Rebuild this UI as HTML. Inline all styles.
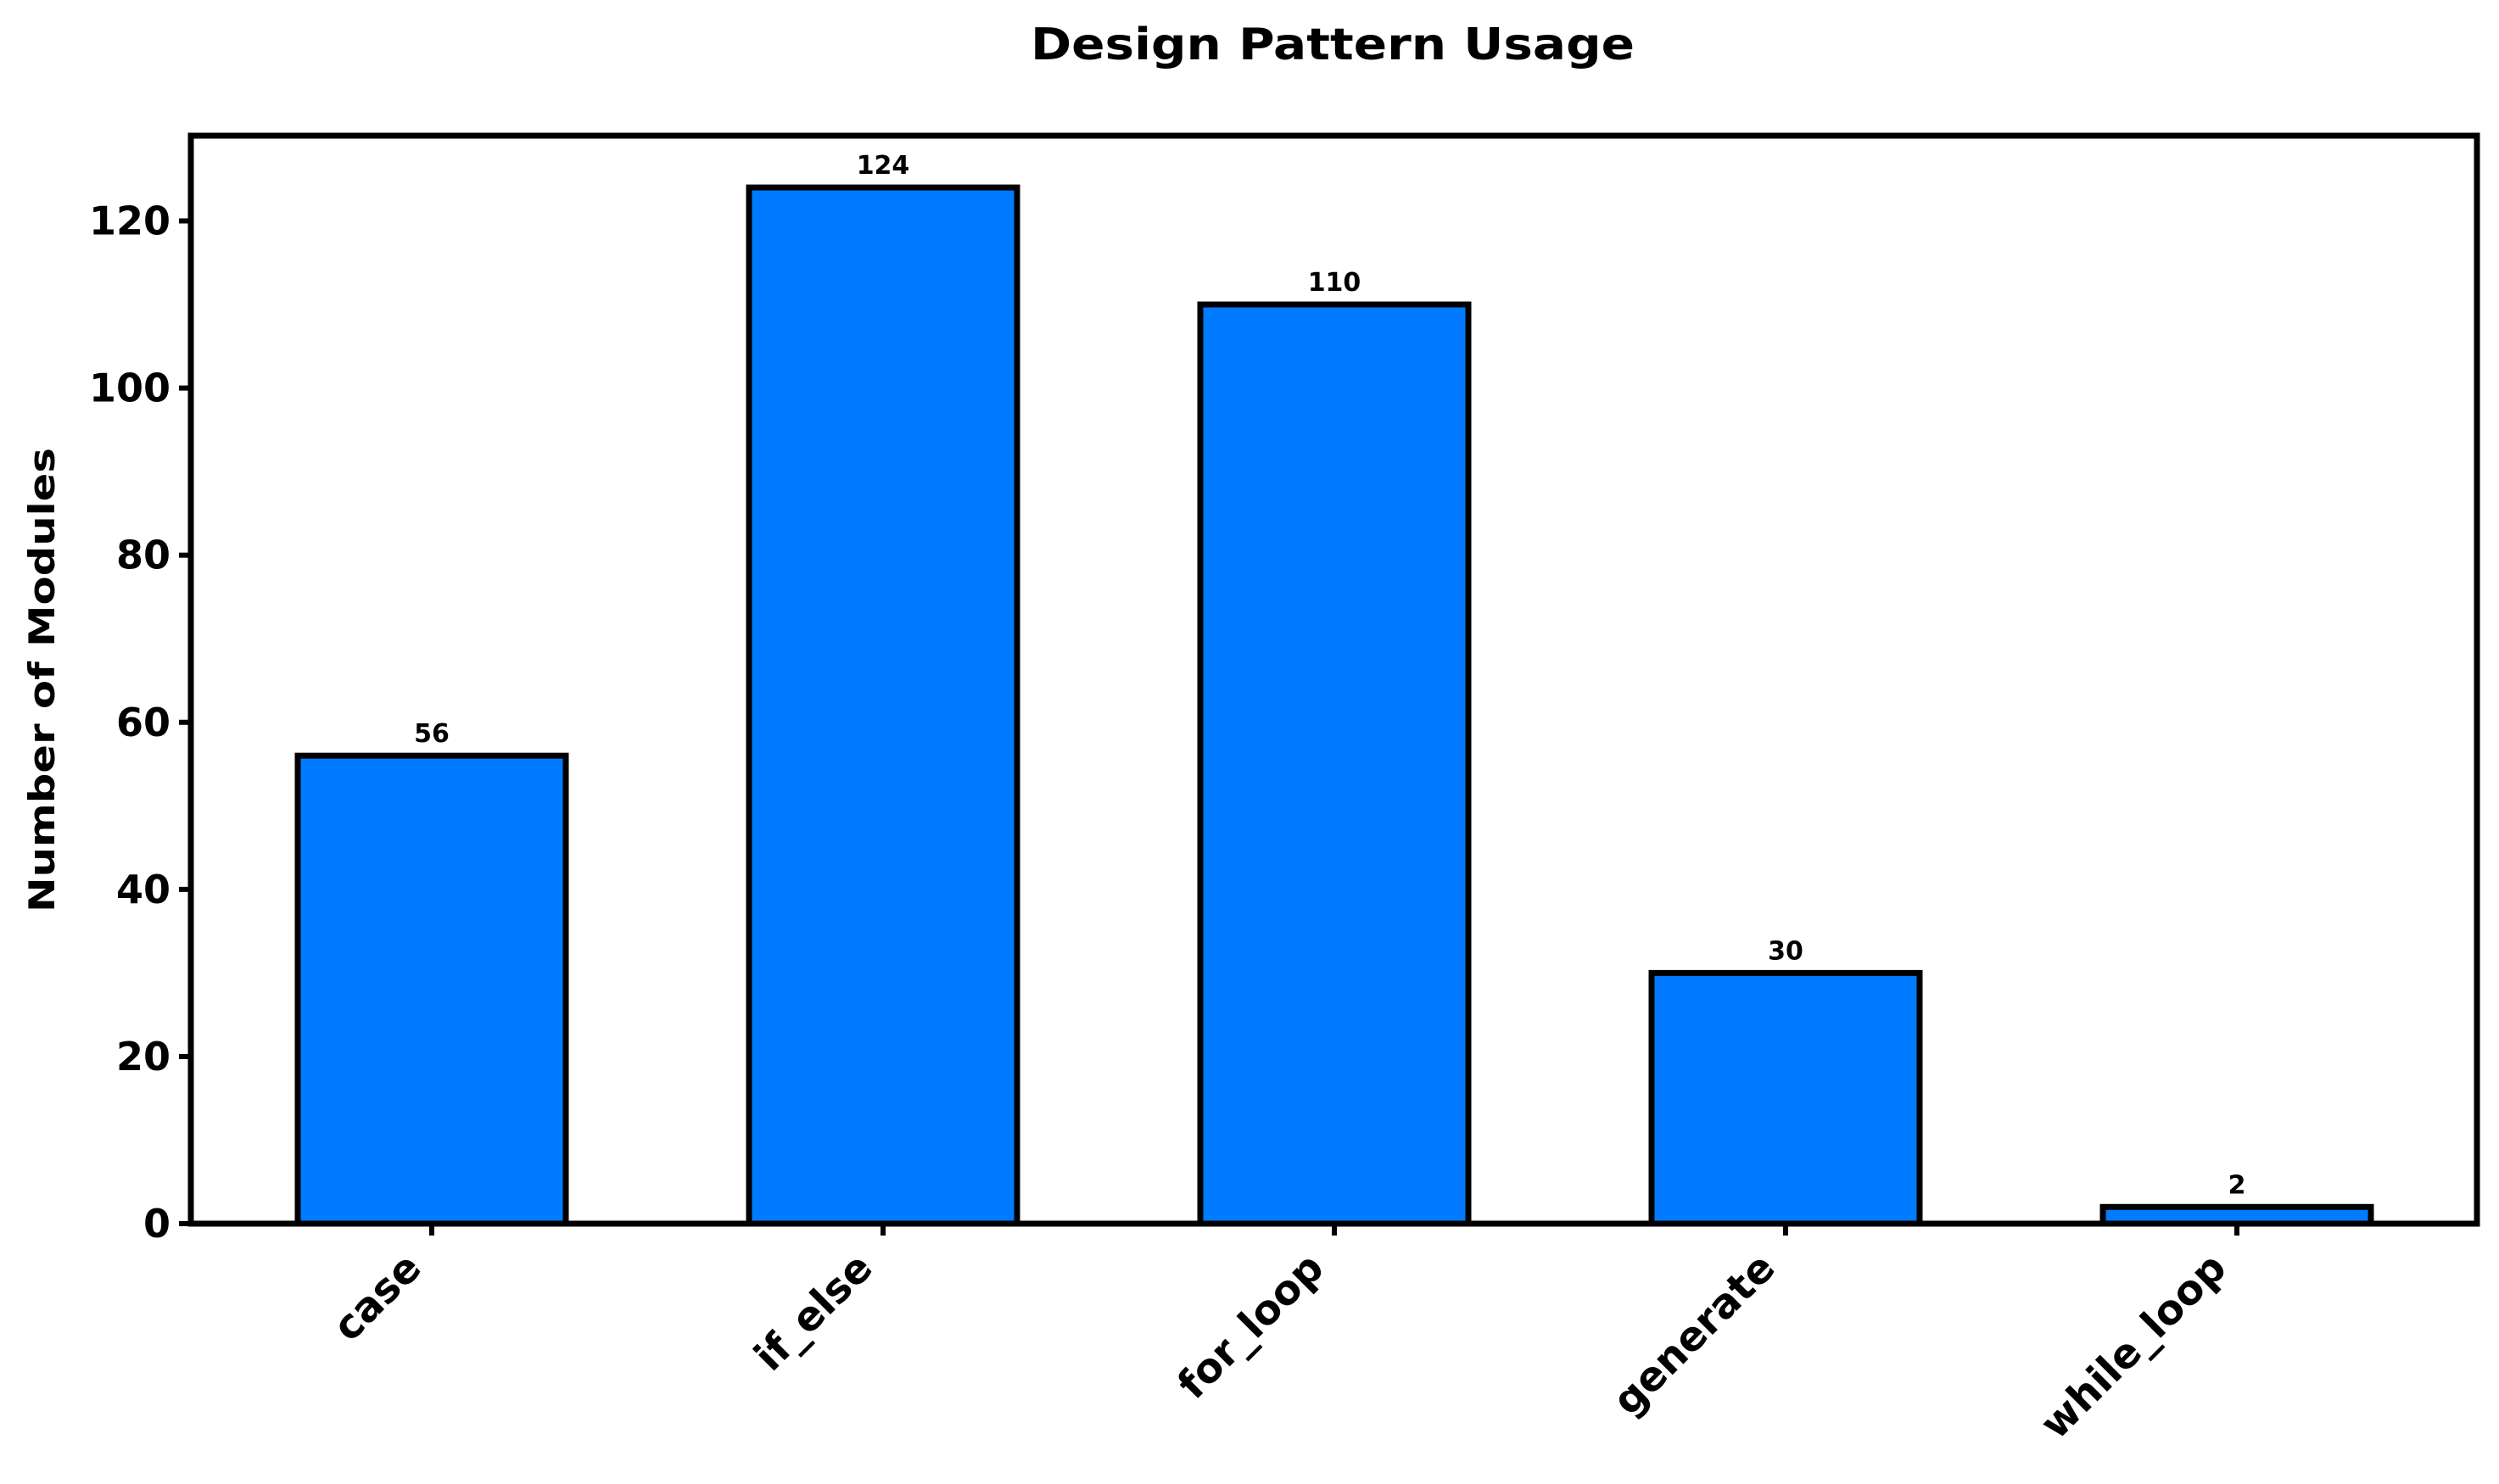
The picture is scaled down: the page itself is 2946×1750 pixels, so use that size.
<!DOCTYPE html>
<html><head><meta charset="utf-8"><style>html,body{margin:0;padding:0;background:#fff}svg{display:block}text{font-family:"DejaVu Sans","Liberation Sans",sans-serif;font-weight:bold;fill:#000}</style></head>
<body>
<svg id="chart" width="2946" height="1750" viewBox="0 0 2946 1750" xmlns="http://www.w3.org/2000/svg">
<text x="1571" y="70" font-size="52" text-anchor="middle" textLength="712" lengthAdjust="spacingAndGlyphs">Design Pattern Usage</text>
<text transform="translate(64,802) rotate(-90)" font-size="42" text-anchor="middle" textLength="548" lengthAdjust="spacingAndGlyphs">Number of Modules</text>
<g id="plot"></g>
</svg>
<script>
const categories = ["case","if_else","for_loop","generate","while_loop"];
const values = [56,124,110,30,2];
const yTicks = [0,20,40,60,80,100,120];
const L=225,R=2920,T=160,B=1443,YMAX=130.2;
const y=v=>B-(v/YMAX)*(B-T);
const x=i=>509+532*i;
const bw=316;
const NS="http://www.w3.org/2000/svg";
const g=document.getElementById('plot');
function mk(t,a){const e=document.createElementNS(NS,t);for(const k in a)e.setAttribute(k,a[k]);g.appendChild(e);return e;}
categories.forEach((c,i)=>{
  const r=mk('rect',{x:x(i)-bw/2,y:y(values[i]),width:bw,height:B-y(values[i]),fill:'#007bff',stroke:'#000','stroke-width':7});
  
  
  const vl=mk('text',{x:x(i),y:y(values[i])-16,'font-size':30,'text-anchor':'middle'});
  vl.textContent=values[i];
  
  
  const tk=mk('line',{x1:x(i),x2:x(i),y1:B,y2:B+14,stroke:'#000','stroke-width':6});
  
  
  const tl=mk('text',{transform:`translate(${x(i)-10},${B+55}) rotate(-45)`,'font-size':48,'text-anchor':'end'});
  tl.textContent=c;
  
  
});
yTicks.forEach(v=>{
  const tk=mk('line',{x1:L-14,x2:L,y1:y(v),y2:y(v),stroke:'#000','stroke-width':6});
  
  
  const tl=mk('text',{x:L-24,y:y(v)+16,'font-size':46,'text-anchor':'end'});
  tl.textContent=v;
  
  
});
const fr=mk('rect',{x:L,y:T,width:R-L,height:B-T,fill:'none',stroke:'#000','stroke-width':7});


</script>
</body></html>
